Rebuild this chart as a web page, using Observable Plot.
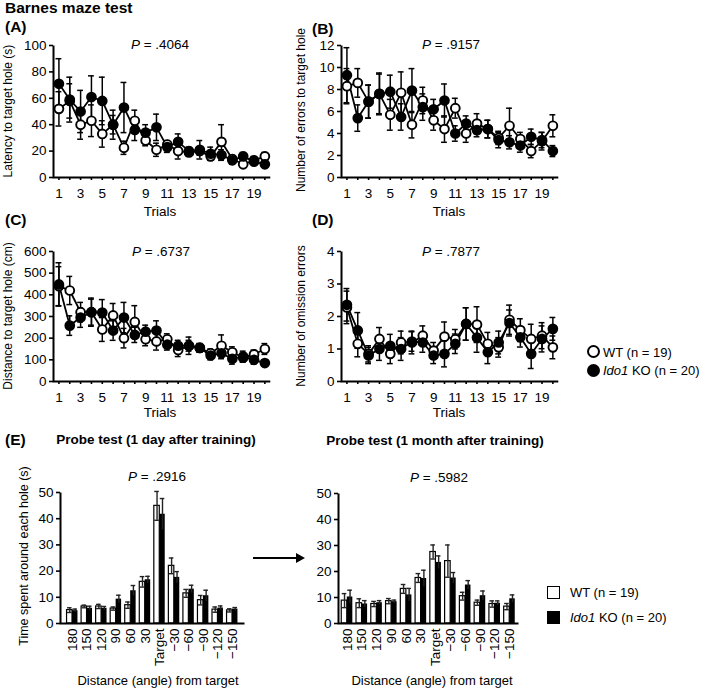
<!DOCTYPE html>
<html><head><meta charset="utf-8">
<script src="https://cdn.jsdelivr.net/npm/d3@7"></script>
<script src="https://cdn.jsdelivr.net/npm/@observablehq/plot@0.6"></script>
<style>
body{margin:0;background:#fff;}
#fig{position:relative;width:709px;height:688px;font-family:"Liberation Sans",Arial,sans-serif;color:#000;overflow:hidden;background:#fff;}
.abs{position:absolute;white-space:nowrap;line-height:1;}
</style></head><body><div id="fig"></div>
<script>
// ---------- data ----------
const trials = [1,2,3,4,5,6,7,8,9,10,11,12,13,14,15,16,17,18,19,20];

const latWT    = [52,58,40,43,33,40,22.5,43,28,21,25,20,19,20,16,27,14,10,13,16];
const latWTerr = [13,13,11,12,10,7,5,8,4,5,3,6,3,3,3,13,3,2,3,3];
const latKO    = [71,59,50,61,58,40,53,36,34,38,23,27,20,21,18,17,13,16,12,10];
const latKOerr = [19,17,16,16,18,11,19,8,6,10,4,6,3,7,5,4,3,3,2,2];

const errWT    = [8.3,8.6,6.9,7.6,5.7,7.7,4.8,7.0,5.2,4.4,6.3,4.0,4.9,4.4,3.6,4.7,3.5,2.4,3.3,4.7];
const errWTerr = [1.6,1.3,1.5,1.8,1.4,1.9,1.2,1.2,0.9,1.2,0.9,0.8,0.9,0.8,0.6,1.6,0.6,0.6,0.8,1.0];
const errKO    = [9.3,5.4,6.9,7.6,7.8,5.5,7.9,6.4,6.2,7.0,4.0,4.9,4.3,4.4,3.4,3.2,2.9,3.7,3.4,2.4];
const errKOerr = [2.5,1.2,1.5,1.9,1.5,1.2,2.0,1.2,0.9,1.5,0.7,0.7,0.6,0.8,0.7,0.6,0.6,0.7,0.7,0.5];

const distWT    = [440,420,320,320,240,305,200,275,195,185,195,145,165,155,130,165,135,110,125,150];
const distWTerr = [90,65,45,60,55,55,45,75,30,40,25,30,25,20,20,50,25,20,20,25];
const distKO    = [448,258,295,320,318,235,295,215,230,235,170,165,165,155,120,130,105,115,100,85];
const distKOerr = [100,45,45,65,60,45,70,35,30,45,25,25,40,20,20,25,25,25,20,15];

const omWT    = [2.28,1.16,0.85,1.31,0.85,1.2,1.2,1.41,0.95,1.38,1.3,1.77,1.75,1.16,1.05,1.9,1.58,1.31,1.41,1.05];
const omWTerr = [0.5,0.4,0.25,0.35,0.3,0.35,0.35,0.3,0.25,0.45,0.3,0.5,0.55,0.35,0.3,0.45,0.35,0.45,0.4,0.35];
const omKO    = [2.36,1.57,0.8,1.0,1.1,1.0,1.23,1.2,0.8,0.85,1.16,1.77,1.35,0.9,1.2,1.8,1.36,0.85,1.31,1.62];
const omKOerr = [0.5,0.55,0.25,0.35,0.35,0.35,0.3,0.3,0.25,0.4,0.3,0.5,0.45,0.35,0.35,0.4,0.3,0.45,0.4,0.35];

const angles = ["180","150","120","90","60","30","Target","\u221230","\u221260","\u221290","\u2212120","\u2212150"];
const day1WT    = [5.1,6.5,6.5,5.7,7.0,15.9,44.9,22.0,11.5,8.9,5.3,5.0];
const day1WTerr = [0.9,0.5,0.8,0.6,1.2,2.0,5.5,3.0,1.5,1.8,1.0,0.6];
const day1KO    = [4.9,5.8,5.8,9.3,12.5,16.7,41.7,17.6,13.1,10.6,5.9,5.5];
const day1KOerr = [0.6,0.8,0.7,1.5,2.0,1.3,6.0,2.2,1.5,2.1,0.8,0.6];
const mon1WT    = [8.8,7.8,7.5,8.6,13.3,17.5,27.5,24.0,10.5,8.0,7.5,6.5];
const mon1WTerr = [2.7,1.7,1.0,1.0,1.7,1.7,2.7,6.2,1.5,1.0,1.2,1.2];
const mon1KO    = [10.2,7.5,8.0,8.4,11.0,17.3,23.5,17.5,14.8,10.7,7.8,9.5];
const mon1KOerr = [2.6,1.3,0.8,0.6,2.5,3.2,2.5,2.1,1.7,1.8,0.9,1.5];

// ---------- helpers ----------
const fig = document.getElementById("fig");
const FONT = "'Liberation Sans', Arial, sans-serif";
const plotStyle = {fontFamily: FONT, fontSize: "13.5px", color: "black", background: "transparent", overflow: "visible"};
const intFmt = d => String(d);

function place(node, left, top) {
  node.style.position = "absolute";
  node.style.left = left + "px";
  node.style.top = top + "px";
  fig.appendChild(node);
}
function txt(html, x, y, {size = 13.5, bold = false, anchor = "middle", rot = false} = {}) {
  const d = document.createElement("div");
  d.className = "abs";
  d.innerHTML = html;
  d.style.left = x + "px";
  d.style.top = y + "px";
  d.style.fontSize = size + "px";
  if (bold) d.style.fontWeight = "bold";
  let tr = anchor === "middle" ? "translate(-50%,-50%)" : "translate(0,-50%)";
  if (rot) tr += " rotate(-90deg)";
  d.style.transform = tr;
  fig.appendChild(d);
}

function linePanel(o) {
  const mL = 53, mT = 15, pw = 216.8, ph = o.ph, mR = 6, mB = 48;
  const rows = (vals, errs) => trials.map((t, i) => ({trial: t, v: vals[i], e: errs[i]}));
  const wt = rows(o.wt, o.wtErr), ko = rows(o.ko, o.koErr);
  const all = wt.concat(ko);
  const cap = 0.27;
  return Plot.plot({
    width: mL + pw + mR, height: mT + ph + mB,
    marginLeft: mL, marginRight: mR, marginTop: mT, marginBottom: mB,
    style: plotStyle,
    x: {domain: [0.5, 20.5]},
    y: {domain: [0, o.yMax]},
    marks: [
      Plot.frame({stroke: "black", strokeWidth: 2, strokeDasharray: `0 ${pw + ph} ${pw + ph}`}),
      Plot.axisY({ticks: o.yTicks, tickFormat: intFmt, tickSize: 4, tickPadding: 3, strokeWidth: 1.6, label: null}),
      Plot.axisX({ticks: trials, tickFormat: d => (d % 2 ? String(d) : ""), tickSize: 3, tickPadding: 8, strokeWidth: 1.6, label: null}),
      Plot.line(wt, {x: "trial", y: "v", stroke: "black", strokeWidth: 1.8}),
      Plot.line(ko, {x: "trial", y: "v", stroke: "black", strokeWidth: 1.8}),
      Plot.ruleX(all, {x: "trial", y1: d => d.v - d.e, y2: d => d.v + d.e, stroke: "black", strokeWidth: 1.5}),
      Plot.ruleY(all, {y: d => d.v + d.e, x1: d => d.trial - cap, x2: d => d.trial + cap, stroke: "black", strokeWidth: 1.5}),
      Plot.ruleY(all, {y: d => d.v - d.e, x1: d => d.trial - cap, x2: d => d.trial + cap, stroke: "black", strokeWidth: 1.5}),
      Plot.dot(wt, {x: "trial", y: "v", r: 4.4, fill: "white", stroke: "black", strokeWidth: 1.9}),
      Plot.dot(ko, {x: "trial", y: "v", r: 4.4, fill: "black", stroke: "black", strokeWidth: 1.9})
    ]
  });
}

function barPanel(o) {
  const mL = 60, mT = 15, pw = o.pw, ph = o.ph, mR = 6, mB = 55;
  const pi = 0.25, po = o.po;
  const step = pw / (angles.length - pi + 2 * po);
  const half = step * (1 - pi) / 2;
  const c = 2.3;
  const rows = (vals, errs) => angles.map((a, i) => ({cat: a, v: vals[i], e: errs[i]}));
  const wt = rows(o.wt, o.wtErr), ko = rows(o.ko, o.koErr);
  const hi = d => d.v + d.e, lo = d => d.v - d.e;
  return Plot.plot({
    width: mL + pw + mR, height: mT + ph + mB,
    marginLeft: mL, marginRight: mR, marginTop: mT, marginBottom: mB,
    style: plotStyle,
    x: {domain: angles, paddingInner: pi, paddingOuter: po, round: false},
    y: {domain: [0, 50]},
    marks: [
      Plot.barY(wt, {x: "cat", y: "v", insetRight: half, fill: "white", stroke: "black", strokeWidth: 1.2}),
      Plot.barY(ko, {x: "cat", y: "v", insetLeft: half, fill: "black"}),
      Plot.ruleX(wt, {x: "cat", y1: lo, y2: hi, dx: -half / 2, stroke: "#222", strokeWidth: 1.4}),
      Plot.ruleX(ko, {x: "cat", y1: lo, y2: hi, dx: half / 2, stroke: "#222", strokeWidth: 1.4}),
      Plot.tickY(wt, {x: "cat", y: hi, insetLeft: half / 2 - c, insetRight: 1.5 * half - c, stroke: "#222", strokeWidth: 1.4}),
      Plot.tickY(wt, {x: "cat", y: lo, insetLeft: half / 2 - c, insetRight: 1.5 * half - c, stroke: "#222", strokeWidth: 1.4}),
      Plot.tickY(ko, {x: "cat", y: hi, insetLeft: 1.5 * half - c, insetRight: half / 2 - c, stroke: "#222", strokeWidth: 1.4}),
      Plot.frame({stroke: "black", strokeWidth: 2, strokeDasharray: `0 ${pw + ph} ${pw + ph}`}),
      Plot.axisY({ticks: [0, 10, 20, 30, 40, 50], tickFormat: intFmt, tickSize: 4, tickPadding: 3, strokeWidth: 1.6, label: null}),
      Plot.axisX({tickRotate: -90, tickSize: 0, tickPadding: 5, label: null})
    ]
  });
}

// ---------- panels ----------
place(linePanel({wt: latWT, wtErr: latWTerr, ko: latKO, koErr: latKOerr, yMax: 100, yTicks: [0,20,40,60,80,100], ph: 132}), 0, 30);
place(linePanel({wt: errWT, wtErr: errWTerr, ko: errKO, koErr: errKOerr, yMax: 12, yTicks: [0,2,4,6,8,10,12], ph: 132}), 288, 30);
place(linePanel({wt: distWT, wtErr: distWTerr, ko: distKO, koErr: distKOerr, yMax: 600, yTicks: [0,100,200,300,400,500,600], ph: 130}), 0, 236);
place(linePanel({wt: omWT, wtErr: omWTerr, ko: omKO, koErr: omKOerr, yMax: 4, yTicks: [0,1,2,3,4], ph: 130}), 288, 236);
place(barPanel({wt: day1WT, wtErr: day1WTerr, ko: day1KO, koErr: day1KOerr, pw: 184, ph: 131, po: 0.45}), 0, 477);
place(barPanel({wt: mon1WT, wtErr: mon1WTerr, ko: mon1KO, koErr: mon1KOerr, pw: 180, ph: 130, po: 0.22}), 278, 478);

// ---------- texts ----------
txt("Barnes maze test", 5, 7.5, {size: 15.5, bold: true, anchor: "start"});
txt("(A)", 5, 27, {size: 15.5, bold: true, anchor: "start"});
txt("(B)", 312, 28.5, {size: 15.5, bold: true, anchor: "start"});
txt("(C)", 5, 220, {size: 15.5, bold: true, anchor: "start"});
txt("(D)", 312, 220, {size: 15.5, bold: true, anchor: "start"});
txt("(E)", 5, 440, {size: 15.5, bold: true, anchor: "start"});

txt("<i>P</i> = .4064", 160, 45);
txt("<i>P</i> = .9157", 451, 45);
txt("<i>P</i> = .6737", 161, 251.5);
txt("<i>P</i> = .7877", 451, 251.5);
txt("<i>P</i> = .2916", 157, 477);
txt("<i>P</i> = .5982", 439, 477.5);

txt("Trials", 160, 211.5);
txt("Trials", 449, 211.5);
txt("Trials", 160, 413);
txt("Trials", 449, 413);

txt("Latency to target hole (s)", 8, 111, {size: 12, rot: true});
txt("Number of errors to target hole", 301, 110, {size: 12, rot: true});
txt("Distance to target hole (cm)", 8, 316, {size: 12, rot: true});
txt("Number of omission errors", 301, 316, {size: 12, rot: true});
txt("Time spent around each hole (s)", 24, 556, {size: 12.5, rot: true});

txt("Probe test (1 day after training)", 156, 440, {size: 13.5, bold: true});
txt("Probe test (1 month after training)", 435, 441, {size: 13.5, bold: true});
txt("Distance (angle) from target", 158, 680, {size: 13});
txt("Distance (angle) from target", 432, 680, {size: 13});

// legends
function circ(x, y, filled) {
  const d = document.createElement("div");
  d.style.cssText = `position:absolute;box-sizing:border-box;width:13px;height:13px;border-radius:50%;border:2.3px solid #000;background:${filled ? "#000" : "#fff"};left:${x - 6.5}px;top:${y - 6.5}px;`;
  fig.appendChild(d);
}
function sq(x, y, filled) {
  const d = document.createElement("div");
  d.style.cssText = `position:absolute;box-sizing:border-box;width:13px;height:13px;border:1.6px solid #000;background:${filled ? "#000" : "#fff"};left:${x - 6.5}px;top:${y - 6.5}px;`;
  fig.appendChild(d);
}
circ(593.3, 351.7, false); txt("WT (n = 19)", 603, 351.7, {size: 13, anchor: "start"});
circ(593.3, 370, true); txt("<i>Ido1</i> KO (n = 20)", 603, 370, {size: 13, anchor: "start"});
sq(553.5, 592, false); txt("WT (n = 19)", 570, 592, {size: 13, anchor: "start"});
sq(553.5, 617, true); txt("<i>Ido1</i> KO (n = 20)", 570, 617, {size: 13, anchor: "start"});

// arrow
const arrow = document.createElementNS("http://www.w3.org/2000/svg", "svg");
arrow.setAttribute("width", "60"); arrow.setAttribute("height", "14");
arrow.innerHTML = '<line x1="1" y1="7" x2="46" y2="7" stroke="black" stroke-width="2"/><polygon points="44,2 53,7 44,12" fill="black"/>';
place(arrow, 252, 551);
</script></body></html>
